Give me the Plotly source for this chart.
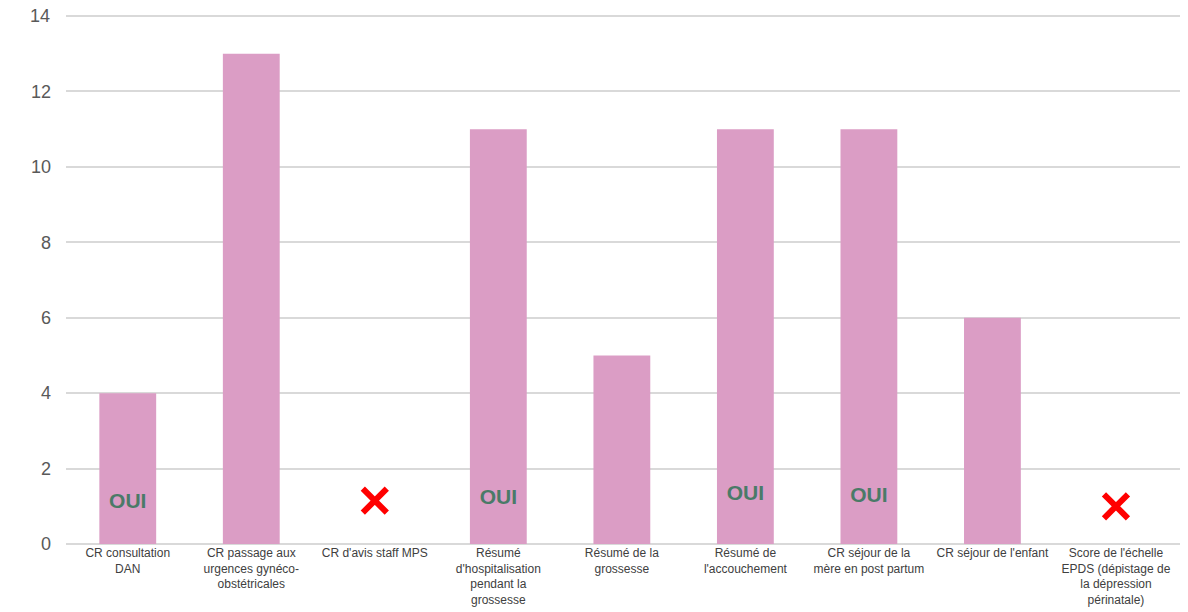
import plotly.graph_objects as go

categories = [
    "CR consultation<br>DAN",
    "CR passage aux<br>urgences gynéco-<br>obstétricales",
    "CR d'avis staff MPS",
    "Résumé<br>d'hospitalisation<br>pendant la<br>grossesse",
    "Résumé de la<br>grossesse",
    "Résumé de<br>l'accouchement",
    "CR séjour de la<br>mère en post partum",
    "CR séjour de l'enfant",
    "Score de l'échelle<br>EPDS (dépistage de<br>la dépression<br>périnatale)",
]
values = [4, 13, 0, 11, 5, 11, 11, 6, 0]

oui_cats = [categories[0], categories[3], categories[5], categories[6]]
oui_y = [1.1, 1.2, 1.3, 1.25]
non_cats = [categories[2], categories[8]]
non_y = [1.15, 1.0]

title_text = "adressés par établissement"
y_ticks = [0, 2, 4, 6, 8, 10, 12, 14]
y_tick_text = ["0", "2", "4", "6", "8", "10", "12", ""]
top_tick_value = 14
top_tick_text = "14"

fig = go.Figure()
fig.add_trace(go.Bar(x=categories, y=values, marker_color="#DB9DC5",
                     marker_line_width=0, showlegend=False))
fig.add_trace(go.Scatter(x=oui_cats, y=oui_y, mode="text", text=["OUI"] * len(oui_cats),
                         textfont=dict(family="Liberation Sans", size=21, color="#4A7A68",
                                       weight="bold"),
                         showlegend=False, hoverinfo="skip"))
fig.add_trace(go.Scatter(x=non_cats, y=non_y, mode="markers",
                         marker=dict(symbol="x-thin", size=24, color="#FF0000",
                                     line=dict(width=6, color="#FF0000")),
                         showlegend=False, hoverinfo="skip"))

fig.add_annotation(text=title_text, xref="paper", yref="paper", x=0.46, y=0.997,
                   xanchor="center", yanchor="bottom", showarrow=False,
                   font=dict(family="Liberation Sans", size=26, color="#595959"))
fig.add_annotation(text=top_tick_text, xref="paper", yref="y", x=0, y=top_tick_value,
                   xanchor="right", yanchor="middle", xshift=-14, showarrow=False,
                   font=dict(family="Liberation Sans", size=18, color="#595959"))

fig.update_layout(
    width=1180, height=604,
    margin=dict(l=58, r=1, t=0, b=68),
    paper_bgcolor="white", plot_bgcolor="white",
    bargap=0.54,
    font=dict(family="Liberation Sans", color="#404040"),
)
fig.update_xaxes(tickfont=dict(size=12, color="#404040"), showgrid=False,
                 showline=False, ticks="", tickangle=0, automargin=False)
fig.update_yaxes(range=[0, 14.212], tickvals=y_ticks, ticktext=y_tick_text,
                 showgrid=True, gridcolor="#D9D9D9",
                 gridwidth=1.5, zeroline=True, zerolinecolor="#D9D9D9", zerolinewidth=1.5,
                 tickfont=dict(size=18, color="#595959"), ticklabelstandoff=14,
                 automargin=False)

fig.write_html("out.html")
